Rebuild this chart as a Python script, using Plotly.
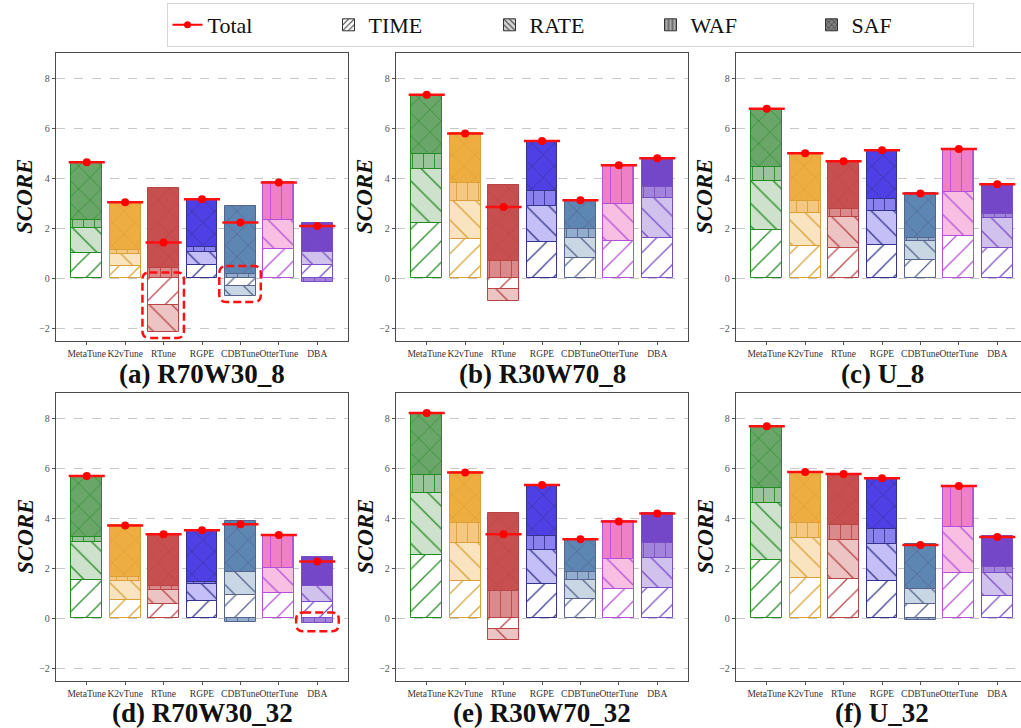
import plotly.graph_objects as go

# ---------------- data ----------------
methods = ["MetaTune", "K2vTune", "RTune", "RGPE", "CDBTune", "OtterTune", "DBA"]
components = ["TIME", "RATE", "WAF", "SAF"]
panel_titles = ["(a) R70W30_8", "(b) R30W70_8", "(c) U_8",
                "(d) R70W30_32", "(e) R30W70_32", "(f) U_32"]

# (a) R70W30_8
time_a = [1.03, 0.48, -1.08, 0.52, -0.32, 1.16, 0.52]
rate_a = [1.00, 0.51, -1.08, 0.52, -0.37, 1.17, 0.53]
waf_a = [0.29, 0.14, 0.43, 0.21, 0.16, 1.50, -0.14]
saf_a = [2.32, 1.91, 3.16, 1.91, 2.75, 0.00, 1.18]
total_a = [4.64, 3.04, 1.43, 3.16, 2.23, 3.83, 2.09]

# (b) R30W70_8
time_b = [2.20, 1.56, -0.44, 1.44, 0.80, 1.48, 1.60]
rate_b = [2.16, 1.53, -0.45, 1.47, 0.80, 1.49, 1.61]
waf_b = [0.60, 0.71, 0.71, 0.58, 0.36, 1.55, 0.42]
saf_b = [2.37, 1.99, 3.02, 2.00, 1.16, 0.00, 1.17]
total_b = [7.33, 5.79, 2.85, 5.49, 3.12, 4.52, 4.80]

# (c) U_8
time_c = [1.92, 1.31, 1.20, 1.35, 0.75, 1.71, 1.20]
rate_c = [1.95, 1.30, 1.24, 1.33, 0.76, 1.72, 1.20]
waf_c = [0.58, 0.48, 0.35, 0.49, 0.12, 1.74, 0.19]
saf_c = [2.32, 1.91, 1.89, 1.95, 1.76, 0.00, 1.17]
total_c = [6.77, 5.00, 4.68, 5.12, 3.39, 5.17, 3.76]

# (d) R70W30_32
time_d = [1.52, 0.73, 0.56, 0.68, 0.95, 1.00, 0.64]
rate_d = [1.52, 0.75, 0.59, 0.69, 0.89, 1.00, 0.64]
waf_d = [0.21, 0.19, 0.16, 0.10, -0.15, 1.33, -0.20]
saf_d = [2.44, 2.04, 2.05, 2.05, 2.04, 0.00, 1.19]
total_d = [5.69, 3.71, 3.36, 3.52, 3.76, 3.33, 2.27]

# (e) R30W70_32
time_e = [2.52, 1.51, -0.43, 1.37, 0.77, 1.17, 1.20]
rate_e = [2.48, 1.52, -0.42, 1.35, 0.78, 1.20, 1.20]
waf_e = [0.72, 0.76, 1.08, 0.57, 0.29, 1.50, 0.61]
saf_e = [2.48, 2.04, 3.12, 2.04, 1.32, 0.00, 1.18]
total_e = [8.20, 5.83, 3.36, 5.33, 3.16, 3.87, 4.19]

# (f) U_32
time_f = [2.32, 1.61, 1.56, 1.48, 0.57, 1.83, 0.91]
rate_f = [2.29, 1.62, 1.57, 1.51, 0.60, 1.81, 0.92]
waf_f = [0.58, 0.57, 0.58, 0.56, -0.05, 1.65, 0.24]
saf_f = [2.48, 2.05, 2.06, 2.05, 1.79, 0.00, 1.21]
total_f = [7.67, 5.85, 5.77, 5.60, 2.93, 5.29, 3.25]

panels = [
    (time_a, rate_a, waf_a, saf_a, total_a),
    (time_b, rate_b, waf_b, saf_b, total_b),
    (time_c, rate_c, waf_c, saf_c, total_c),
    (time_d, rate_d, waf_d, saf_d, total_d),
    (time_e, rate_e, waf_e, saf_e, total_e),
    (time_f, rate_f, waf_f, saf_f, total_f),
]

# ---------------- style ----------------
W, H = 1021, 728
FONT = "Liberation Serif"
base_rgb = {
    "MetaTune": (56, 136, 56),
    "K2vTune": (232, 146, 0),
    "RTune": (181, 20, 20),
    "RGPE": (20, 0, 222),
    "CDBTune": (39, 94, 152),
    "OtterTune": (225, 0, 140),
    "DBA": (70, 10, 182),
}
edge_col = {
    "MetaTune": "#228B22",
    "K2vTune": "#DAA035",
    "RTune": "#B84444",
    "RGPE": "#34348F",
    "CDBTune": "#56648E",
    "OtterTune": "#B450D8",
    "DBA": "#7A4CC8",
}
tier_alpha = {"TIME": 0.0, "RATE": 0.25, "WAF": 0.5, "SAF": 0.75}
tier_shape = {"TIME": "/", "RATE": "\\", "WAF": "|", "SAF": "x"}
tier_size = {"TIME": 15, "RATE": 16, "WAF": 11, "SAF": 16}


def blend(rgb, a):
    r, g, b = (round(c * a + 255 * (1 - a)) for c in rgb)
    return f"rgb({r},{g},{b})"


xd = [(56, 348), (396, 688), (736, 1021)]
yd = [(53, 341), (393, 681)]
XR = [-0.8, 6.8]
px_per_unit = 292 / (XR[1] - XR[0])

fig = go.Figure()
layout = {}
idx = list(range(len(methods)))

for p, (tv, rv, wv, sv, tot) in enumerate(panels):
    row, col = divmod(p, 3)
    n = p + 1
    xa = "x" if n == 1 else f"x{n}"
    ya = "y" if n == 1 else f"y{n}"
    for comp, vals in zip(components, (tv, rv, wv, sv)):
        fills = [blend(base_rgb[m], tier_alpha[comp]) for m in methods]
        edges = [edge_col[m] for m in methods]
        fig.add_trace(go.Bar(
            x=idx, y=vals, width=0.8, xaxis=xa, yaxis=ya, showlegend=False,
            name=comp,
            marker=dict(color=fills[0], line=dict(color=edges, width=1),
                        pattern=dict(shape=tier_shape[comp], fgcolor=edges,
                                     bgcolor=fills, fillmode="replace",
                                     size=tier_size[comp], solidity=0.08)),
        ))
    # total horizontal lines
    lx, ly = [], []
    for i, t in zip(idx, tot):
        lx += [i - 0.47, i + 0.47, None]
        ly += [t, t, None]
    fig.add_trace(go.Scatter(x=lx, y=ly, mode="lines", xaxis=xa, yaxis=ya,
                             line=dict(color="#ff1010", width=2.5),
                             showlegend=False, hoverinfo="skip"))
    fig.add_trace(go.Scatter(x=idx, y=tot, mode="markers", xaxis=xa, yaxis=ya,
                             marker=dict(color="#ff0000", size=8),
                             showlegend=False, name="Total"))

    x0, x1 = xd[col]
    y0, y1 = yd[row]
    xr = list(XR)
    if x1 >= W:
        xr = [XR[0], XR[0] + (x1 - x0) / px_per_unit]
    last_col = (col == 2)
    layout["xaxis" if n == 1 else f"xaxis{n}"] = dict(
        domain=[x0 / W, x1 / W], anchor=ya, range=xr,
        tickmode="array", tickvals=idx, ticktext=methods, tickangle=0,
        tickfont=dict(family=FONT, size=9.5, color="#333"),
        ticks="outside", ticklen=3, tickcolor="#555", showgrid=False,
        showline=True, linecolor="#4a4a4a", linewidth=1.3, mirror=True,
        zeroline=False, fixedrange=True, automargin=False,
    )
    layout["yaxis" if n == 1 else f"yaxis{n}"] = dict(
        domain=[1 - y1 / H, 1 - y0 / H], anchor=xa, range=[-2.5, 9],
        tickvals=[-2, 0, 2, 4, 6, 8],
        tickfont=dict(family=FONT, size=10, color="#555"),
        ticks="outside", ticklen=3, tickcolor="#555",
        showgrid=True, gridcolor="#c8c8c8", griddash="dash", gridwidth=0.8,
        showline=True, linecolor="#4a4a4a", linewidth=1.3,
        mirror=(not last_col), zeroline=False, fixedrange=True, automargin=False,
    )

# legend entries
fig.add_trace(go.Scatter(x=[None], y=[None], mode="lines+markers", name="Total",
                         line=dict(color="#ff0000", width=2),
                         marker=dict(color="#ff0000", size=7)))
legend_fill = {"TIME": "#ffffff", "RATE": "#d4d4d4", "WAF": "#a9a9a9", "SAF": "#7f7f7f"}
for comp in components:
    fig.add_trace(go.Bar(
        x=[None], y=[None], name=comp,
        marker=dict(color=legend_fill[comp], line=dict(color="#333", width=1),
                    pattern=dict(shape=tier_shape[comp], fgcolor="#333",
                                 bgcolor=legend_fill[comp], fillmode="replace",
                                 size=5, solidity=0.25)),
    ))


def rounded_box(xa0, xa1, ya0, ya1, rpx=7):
    rx = rpx / px_per_unit
    ry = rpx / 25.0
    return (f"M{xa0 + rx},{ya1} L{xa1 - rx},{ya1} Q{xa1},{ya1} {xa1},{ya1 - ry} "
            f"L{xa1},{ya0 + ry} Q{xa1},{ya0} {xa1 - rx},{ya0} "
            f"L{xa0 + rx},{ya0} Q{xa0},{ya0} {xa0},{ya0 + ry} "
            f"L{xa0},{ya1 - ry} Q{xa0},{ya1} {xa0 + rx},{ya1} Z")


highlight_boxes = [
    ("x", "y", 1.45, 2.53, -2.38, 0.24),
    ("x", "y", 3.45, 4.53, -0.94, 0.49),
    ("x4", "y4", 5.45, 6.56, -0.51, 0.24),
]
shapes = []
for xr_, yr_, a0, a1, b0, b1 in highlight_boxes:
    shapes.append(dict(type="path", xref=xr_, yref=yr_, path=rounded_box(a0, a1, b0, b1),
                       line=dict(color="#ff1010", width=2.5, dash="8px,4px"), layer="above"))

annotations = []
title_y = [374, 713]
for p, t in enumerate(panel_titles):
    row, col = divmod(p, 3)
    x0, x1 = xd[col]
    cx = x0 + 146
    annotations.append(dict(text=f"<b>{t}</b>", x=cx / W, y=1 - title_y[row] / H,
                            xref="paper", yref="paper", showarrow=False,
                            xanchor="center", yanchor="middle",
                            font=dict(family=FONT, size=27, color="#111")))
    yc = (yd[row][0] + yd[row][1]) / 2
    annotations.append(dict(text="<b><i>SCORE</i></b>", x=(x0 - 31) / W, y=1 - yc / H,
                            xref="paper", yref="paper", showarrow=False, textangle=-90,
                            xanchor="center", yanchor="middle",
                            font=dict(family=FONT, size=23, color="#111")))

fig.update_layout(
    width=W, height=H, margin=dict(l=0, r=0, t=0, b=0, autoexpand=False),
    paper_bgcolor="white", plot_bgcolor="white",
    barmode="relative", bargap=0,
    showlegend=True,
    legend=dict(orientation="h", x=570 / W, xanchor="center", y=1 - 3 / H, yanchor="top",
                font=dict(family=FONT, size=22, color="#111"),
                bgcolor="white", bordercolor="#d6d6d6", borderwidth=1,
                entrywidth=116, traceorder="normal"),
    shapes=shapes, annotations=annotations,
    **layout,
)

fig.write_html("out.html", config={"displayModeBar": False},
               post_script="document.body.style.margin='0px';document.body.style.overflow='hidden';")
